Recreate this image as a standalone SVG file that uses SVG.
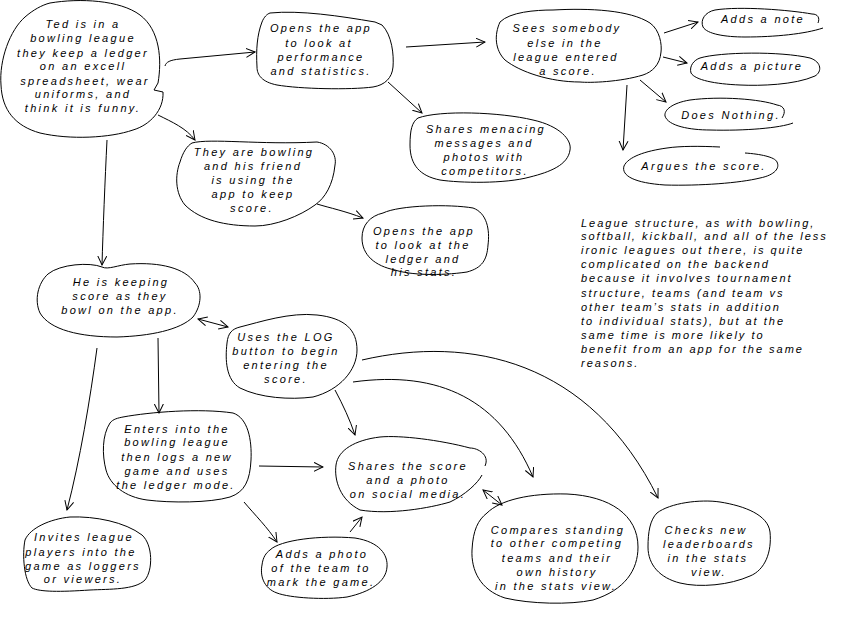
<svg xmlns="http://www.w3.org/2000/svg" width="852" height="620" viewBox="0 0 852 620">
<style>
.b{fill:none;stroke:#000;stroke-width:1}
.c{fill:none;stroke:#000;stroke-width:1}
text{font-family:"Liberation Sans",Arial,sans-serif;font-style:italic;font-size:11px;letter-spacing:2.3px;fill:#000;text-anchor:middle}
.p{text-anchor:start;letter-spacing:2px}
</style>
<defs>
<marker id="a" viewBox="0 0 10 10" refX="9" refY="5" markerWidth="10" markerHeight="10" markerUnits="userSpaceOnUse" orient="auto-start-reverse">
<path d="M0,0.5 L9,5 L0,9.5" fill="none" stroke="#000" stroke-width="1"/>
</marker>
</defs>
<rect width="852" height="620" fill="#fff"/>
<g id="connectors">
<path class="c" d="M165,66 C166,62 170,60 180,59 L255,52" marker-end="url(#a)"/>
<path class="c" d="M406,47 L485,42" marker-end="url(#a)"/>
<path class="c" d="M388,82 L422,113" marker-end="url(#a)"/>
<path class="c" d="M664,33 L698,22" marker-end="url(#a)"/>
<path class="c" d="M663,57 L687,63" marker-end="url(#a)"/>
<path class="c" d="M640,80 L666,102" marker-end="url(#a)"/>
<path class="c" d="M627,85 L623,150" marker-end="url(#a)"/>
<path class="c" d="M158,115 C172,122 186,128 195,140" marker-end="url(#a)"/>
<path class="c" d="M317,204 C330,208 345,211 363,218" marker-end="url(#a)"/>
<path class="c" d="M107,140 C105,180 103,230 102,265" marker-end="url(#a)"/>
<path class="c" d="M198,319 L228,327" marker-start="url(#a)" marker-end="url(#a)"/>
<path class="c" d="M97,348 C90,400 80,460 67,510" marker-end="url(#a)"/>
<path class="c" d="M158,338 L159,413" marker-end="url(#a)"/>
<path class="c" d="M259,466 L323,467" marker-end="url(#a)"/>
<path class="c" d="M244,502 C255,515 268,528 277,542" marker-end="url(#a)"/>
<path class="c" d="M350,532 L362,517" marker-end="url(#a)"/>
<path class="c" d="M335,390 C343,405 350,420 355,435" marker-end="url(#a)"/>
<path class="c" d="M353,382 C440,370 500,400 533,477" marker-end="url(#a)"/>
<path class="c" d="M362,360 C470,335 590,360 658,498" marker-end="url(#a)"/>
<path class="c" d="M502,505 L483,490" marker-start="url(#a)" marker-end="url(#a)"/>
</g>
<g id="n-ted">
<path class="b" d="M50,3 C80,-2 120,0 140,15 C160,30 162,60 158,83 L154,90 L163,92 C164,110 150,125 133,130 C110,138 70,140 40,133 C15,126 2,110 1,85 C-1,60 10,30 25,17 C33,10 42,5 50,3 Z"/>
<text x="83" y="28">Ted is in a</text>
<text x="83" y="42">bowling league</text>
<text x="83" y="57">they keep a ledger</text>
<text x="83" y="70">on an excell</text>
<text x="85" y="85">spreadsheet, wear</text>
<text x="83" y="98">uniforms, and</text>
<text x="83" y="112">think it is funny.</text>
</g>
<g id="n-opens1">
<path class="b" d="M270,13 C300,10 340,16 375,22 L382,25 C392,35 394,55 393,67 C392,78 385,85 373,87 C350,90 300,89 277,85 C262,82 257,75 257,67 C256,50 257,35 262,22 C264,17 267,14 270,13 Z"/>
<text x="321" y="32">Opens the app</text>
<text x="319" y="47">to look at</text>
<text x="321" y="61">performance</text>
<text x="321" y="75">and statistics.</text>
</g>
<g id="n-sees">
<path class="b" d="M553,10 C590,8 630,10 650,23 C660,30 662,45 661,52 C660,65 652,72 643,75 C620,82 590,83 580,82 C550,82 520,72 505,60 C495,50 494,35 500,22 C510,12 535,10 553,10 Z"/>
<text x="567" y="32">Sees somebody</text>
<text x="565" y="47">else in the</text>
<text x="566" y="61">league entered</text>
<text x="568" y="75">a score.</text>
</g>
<g id="n-note">
<path class="b" d="M818,23 C820,18 818,14 812,14 C790,10 740,6 715,10 C705,12 700,20 703,27 C707,34 725,37 745,37 C775,37 805,34 823,28"/>
<text x="763" y="23">Adds a note</text>
</g>
<g id="n-picture">
<path class="b" d="M700,58 C720,52 780,51 810,58 C822,62 822,72 815,76 C795,85 760,86 740,85 C715,84 695,80 691,73 C689,66 694,60 700,58 Z"/>
<text x="752" y="70">Adds a picture</text>
</g>
<g id="n-nothing">
<path class="b" d="M782,118 C786,112 785,106 777,105 C760,99 720,96 690,100 C672,103 664,110 665,116 C668,126 690,130 710,130 C745,131 780,128 793,123"/>
<text x="731" y="119">Does Nothing.</text>
</g>
<g id="n-argues">
<path class="b" d="M720,147 C700,146 680,146 667,148 C645,151 628,157 624,166 C621,176 635,183 665,185 C700,186 740,183 760,178 C775,175 780,168 777,162 C775,157 760,154 745,153"/>
<text x="704" y="170">Argues the score.</text>
</g>
<g id="n-menacing">
<path class="b" d="M418,118 C440,110 500,112 533,120 C560,126 572,140 570,150 C568,165 550,172 530,177 C505,184 460,183 440,180 C420,176 410,165 410,145 C410,130 412,122 418,118 Z"/>
<text x="486" y="133">Shares menacing</text>
<text x="484" y="147">messages and</text>
<text x="484" y="161">photos with</text>
<text x="485" y="175">competitors.</text>
</g>
<g id="n-bowling">
<path class="b" d="M192,143 C210,138 260,145 317,142 C330,144 337,155 335,165 C333,185 325,198 315,205 C300,216 275,226 255,226 C225,226 200,220 185,205 C175,193 175,175 180,162 C183,152 187,146 192,143 Z"/>
<text x="254" y="156">They are bowling</text>
<text x="253" y="170">and his friend</text>
<text x="253" y="184">is using the</text>
<text x="253" y="198">app to keep</text>
<text x="252" y="212">score.</text>
</g>
<g id="n-ledger">
<path class="b" d="M383,213 C400,205 450,204 473,208 C487,213 490,230 488,245 C487,260 482,268 467,272 C440,276 410,275 395,270 C375,266 362,255 362,238 C362,225 370,216 383,213 Z"/>
<text x="424" y="235">Opens the app</text>
<text x="423" y="249">to look at the</text>
<text x="423" y="263">ledger and</text>
<text x="424" y="276">his stats.</text>
</g>
<g id="n-keeping">
<path class="b" d="M102,267 C90,262 60,264 48,274 C38,283 34,300 40,313 C50,330 80,337 117,337 C150,336 180,330 193,317 C202,305 202,290 195,283 C185,268 160,262 130,264 C118,265 108,270 102,267 Z"/>
<text x="121" y="286">He is keeping</text>
<text x="120" y="300">score as they</text>
<text x="120" y="314">bowl on the app.</text>
</g>
<g id="n-log">
<path class="b" d="M240,327 C260,322 290,312 317,315 C345,318 357,330 357,350 C357,370 340,390 313,397 C290,400 260,398 240,388 C226,380 225,360 227,343 C228,333 232,329 240,327 Z"/>
<text x="286" y="341">Uses the LOG</text>
<text x="286" y="355">button to begin</text>
<text x="286" y="369">entering the</text>
<text x="286" y="383">score.</text>
</g>
<g id="n-enters">
<path class="b" d="M123,417 C150,412 200,408 233,413 C248,418 252,440 251,460 C250,480 245,492 230,497 C210,503 170,503 147,500 C125,497 110,485 106,470 C102,455 102,435 110,423 C113,419 118,418 123,417 Z"/>
<text x="177" y="433">Enters into the</text>
<text x="177" y="446">bowling league</text>
<text x="177" y="461">then logs a new</text>
<text x="177" y="475">game and uses</text>
<text x="176" y="489">the ledger mode.</text>
</g>
<g id="n-photo">
<path class="b" d="M270,550 C280,540 320,535 355,538 C380,542 388,555 387,567 C386,582 370,592 347,597 C325,600 290,598 277,593 C263,588 260,575 262,565 C263,557 266,553 270,550 Z"/>
<text x="322" y="558">Adds a photo</text>
<text x="321" y="572">of the team to</text>
<text x="321" y="586">mark the game.</text>
</g>
<g id="n-social">
<path class="b" d="M485,466 C490,455 478,448 470,448 C440,440 400,435 380,437 C355,440 338,450 336,465 C334,480 340,500 360,510 C390,515 430,508 450,502 C465,495 478,483 482,475"/>
<text x="408" y="470">Shares the score</text>
<text x="408" y="484">and a photo</text>
<text x="408" y="498">on social media.</text>
</g>
<g id="n-compares">
<path class="b" d="M487,513 C500,500 530,493 567,494 C610,496 638,515 638,547 C638,570 625,590 593,600 C570,605 530,604 505,598 C480,590 471,570 472,550 C473,530 478,520 487,513 Z"/>
<text x="558" y="534">Compares standing</text>
<text x="557" y="547">to other competing</text>
<text x="557" y="562">teams and their</text>
<text x="557" y="576">own history</text>
<text x="556" y="590">in the stats view.</text>
</g>
<g id="n-checks">
<path class="b" d="M657,513 C670,503 700,499 720,502 C745,506 768,515 770,532 C772,552 765,570 750,576 C730,585 700,588 680,583 C660,578 648,565 648,547 C648,532 650,520 657,513 Z"/>
<text x="706" y="534">Checks new</text>
<text x="709" y="548">leaderboards</text>
<text x="708" y="562">in the stats</text>
<text x="709" y="576">view.</text>
</g>
<g id="n-invites">
<path class="b" d="M70,517 C95,516 125,522 142,535 C153,545 153,570 145,580 C135,590 110,589 90,590 C60,592 40,592 32,588 C24,580 22,555 25,540 C30,528 50,519 70,517 Z"/>
<text x="84" y="541">Invites league</text>
<text x="81" y="556">players into the</text>
<text x="83" y="570">game as loggers</text>
<text x="83" y="583">or viewers.</text>
</g>
<g id="note">
<text class="p" x="581" y="227">League structure, as with bowling,</text>
<text class="p" x="581" y="240">softball, kickball, and all of the less</text>
<text class="p" x="581" y="254">ironic leagues out there, is quite</text>
<text class="p" x="581" y="268">complicated on the backend</text>
<text class="p" x="581" y="282">because it involves tournament</text>
<text class="p" x="581" y="297">structure, teams (and team vs</text>
<text class="p" x="581" y="311">other team’s stats in addition</text>
<text class="p" x="581" y="325">to individual stats), but at the</text>
<text class="p" x="581" y="339">same time is more likely to</text>
<text class="p" x="581" y="353">benefit from an app for the same</text>
<text class="p" x="581" y="367">reasons.</text>
</g>
</svg>
